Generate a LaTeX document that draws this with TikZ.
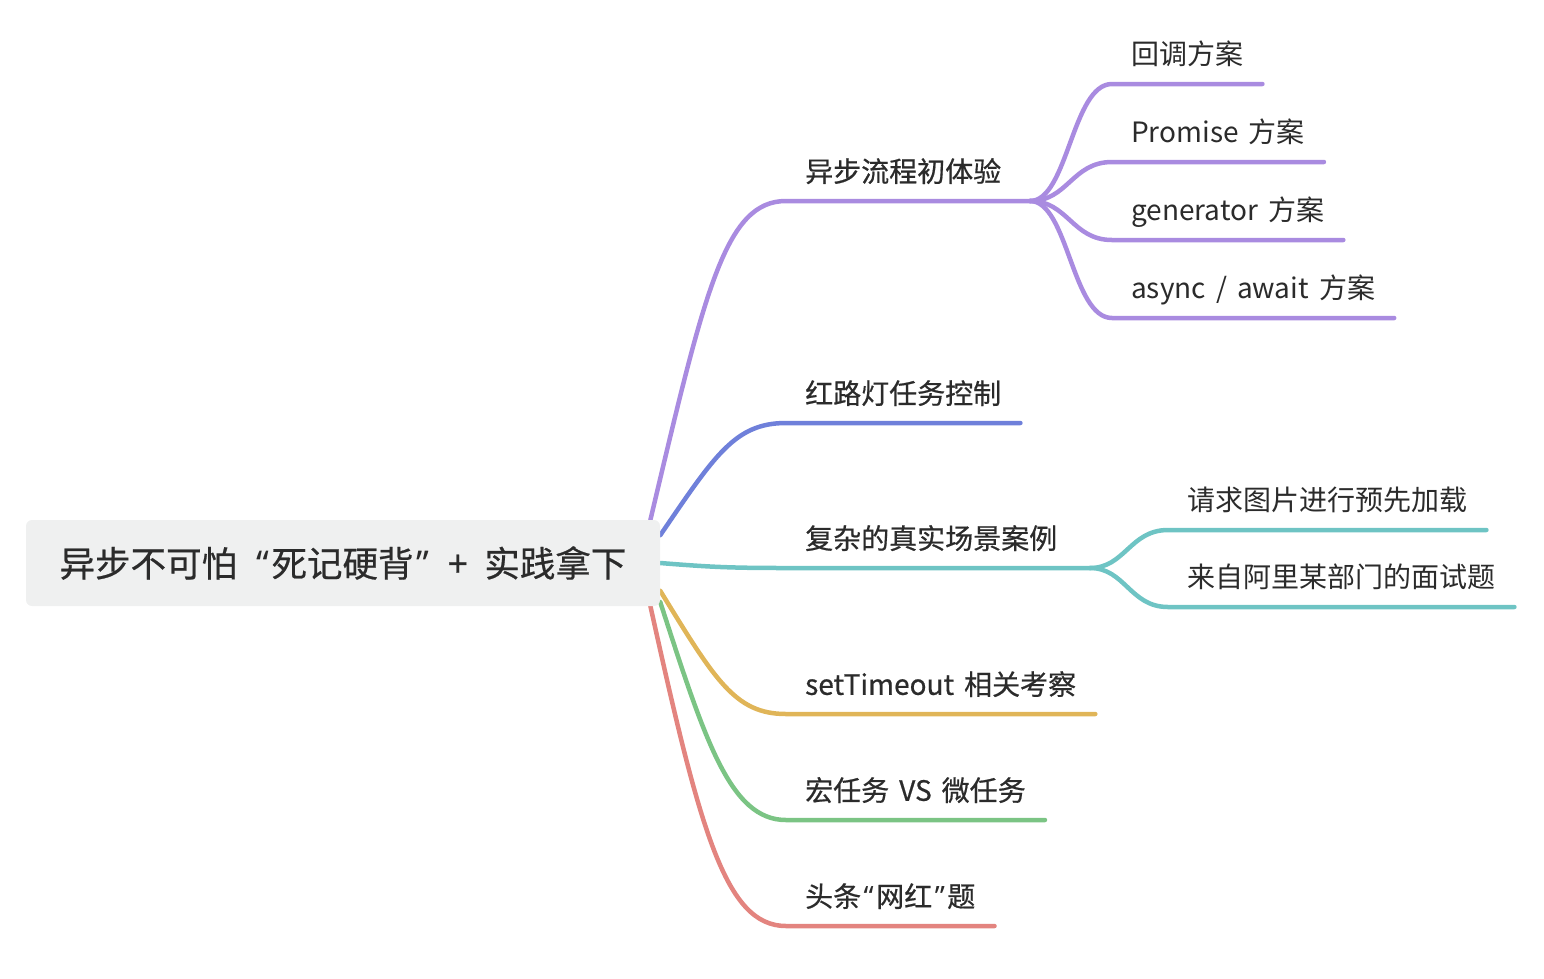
\documentclass[tikz,border=0pt]{standalone}
\usepackage{fontspec}
\newfontfamily\cjk[WordSpace=1.6]{Noto Sans CJK SC}
\newfontfamily\cjkmed[FakeBold=0.6, WordSpace=1.6]{Noto Sans CJK SC}
\newfontfamily\cjkroot[FakeBold=0.61, WordSpace=2.1]{Noto Sans CJK SC}
\newfontfamily\quotefont{Noto Sans}
\newcommand\openq{{\quotefont\kern2.5pt“\kern2.5pt}}
\newcommand\closeq{{\quotefont\kern2.5pt”\kern2.5pt}}
\usetikzlibrary{backgrounds}

\definecolor{txtgray}{HTML}{2B2B2B}
\definecolor{rootfill}{HTML}{EFF0F0}
\definecolor{cPurple}{HTML}{A98BE0}
\definecolor{cBlue}{HTML}{6F80DA}
\definecolor{cTeal}{HTML}{6EC4C4}
\definecolor{cYellow}{HTML}{E0B558}
\definecolor{cGreen}{HTML}{7BC484}
\definecolor{cRed}{HTML}{E3847F}

\begin{document}
\begin{tikzpicture}[
    x=1pt, y=-1pt,
    every node/.style={text=txtgray},
    root/.style={rectangle, rounded corners=6pt, fill=rootfill, minimum width=634pt, minimum height=86pt, font=\cjkroot\fontsize{35.5}{40}\selectfont},
    topic/.style={anchor=south west, inner xsep=19pt, inner ysep=0pt, text depth=19pt, font=\cjkmed\fontsize{28}{32}\selectfont},
    subtopic/.style={topic, font=\cjk\fontsize{28}{32}\selectfont},
    branch/.style={line width=4.5pt, line cap=round}
]
\useasboundingbox (0,0) rectangle (1544,978);

% Central topic
\node[root] (root) at (343,563) {异步不可怕 \openq 死记硬背\closeq{} + 实践拿下};

% Main topics
\node[topic] (tFlow) at (786,201) {异步流程初体验};
\node[topic] (tLight) at (786,423) {红路灯任务控制};
\node[topic] (tReal) at (786,568) {复杂的真实场景案例};
\node[topic] (tTimer) at (786,714) {setTimeout 相关考察};
\node[topic] (tMacro) at (786,820) {宏任务 VS 微任务};
\node[topic] (tToutiao) at (786,926) {头条\openq 网红\closeq 题};

\coordinate (hubFlow) at (1030,201);
\coordinate (hubReal) at (1090,568);

% Subtopics
\node[subtopic] (sCallback) at (1112,84) {回调方案};
\node[subtopic] (sPromise) at (1112,162) {Promise 方案};
\node[subtopic] (sGen) at (1112,240) {generator 方案};
\node[subtopic] (sAsync) at (1112,318) {async / await 方案};
\node[subtopic] (sPreload) at (1168,530) {请求图片进行预先加载};
\node[subtopic] (sAli) at (1168,607) {来自阿里某部门的面试题};

\begin{pgfonlayer}{background}
\draw[branch, cPurple] (root.8.2) .. controls (705,290) and (725,201) .. (tFlow.south west) -- (hubFlow);
\draw[branch, cBlue] (root.5.4) .. controls (715,455) and (735,423) .. (tLight.south west) -- (tLight.south east);
\draw[branch, cTeal] (root.east) .. controls (710,567) and (730,568) .. (tReal.south west) -- (hubReal);
\draw[branch, cYellow] (root.-5.8) .. controls (715,680) and (735,714) .. (tTimer.south west) -- (tTimer.south east);
\draw[branch, cGreen] (root.-7.9) .. controls (705,740) and (730,820) .. (tMacro.south west) -- (tMacro.south east);
\draw[branch, cRed] (root.-8.2) .. controls (700,830) and (725,926) .. (tToutiao.south west) -- (tToutiao.south east);
\end{pgfonlayer}

% Sub branches
\foreach \s in {sCallback, sPromise, sGen, sAsync}
  \draw[branch, cPurple] (hubFlow) .. controls (1068,201) and (1072,0|-\s.south west) .. (\s.south west) -- (\s.south east);
\foreach \s in {sPreload, sAli}
  \draw[branch, cTeal] (hubReal) .. controls (1125,568) and (1130,0|-\s.south west) .. (\s.south west) -- (\s.south east);

\end{tikzpicture}
\end{document}
